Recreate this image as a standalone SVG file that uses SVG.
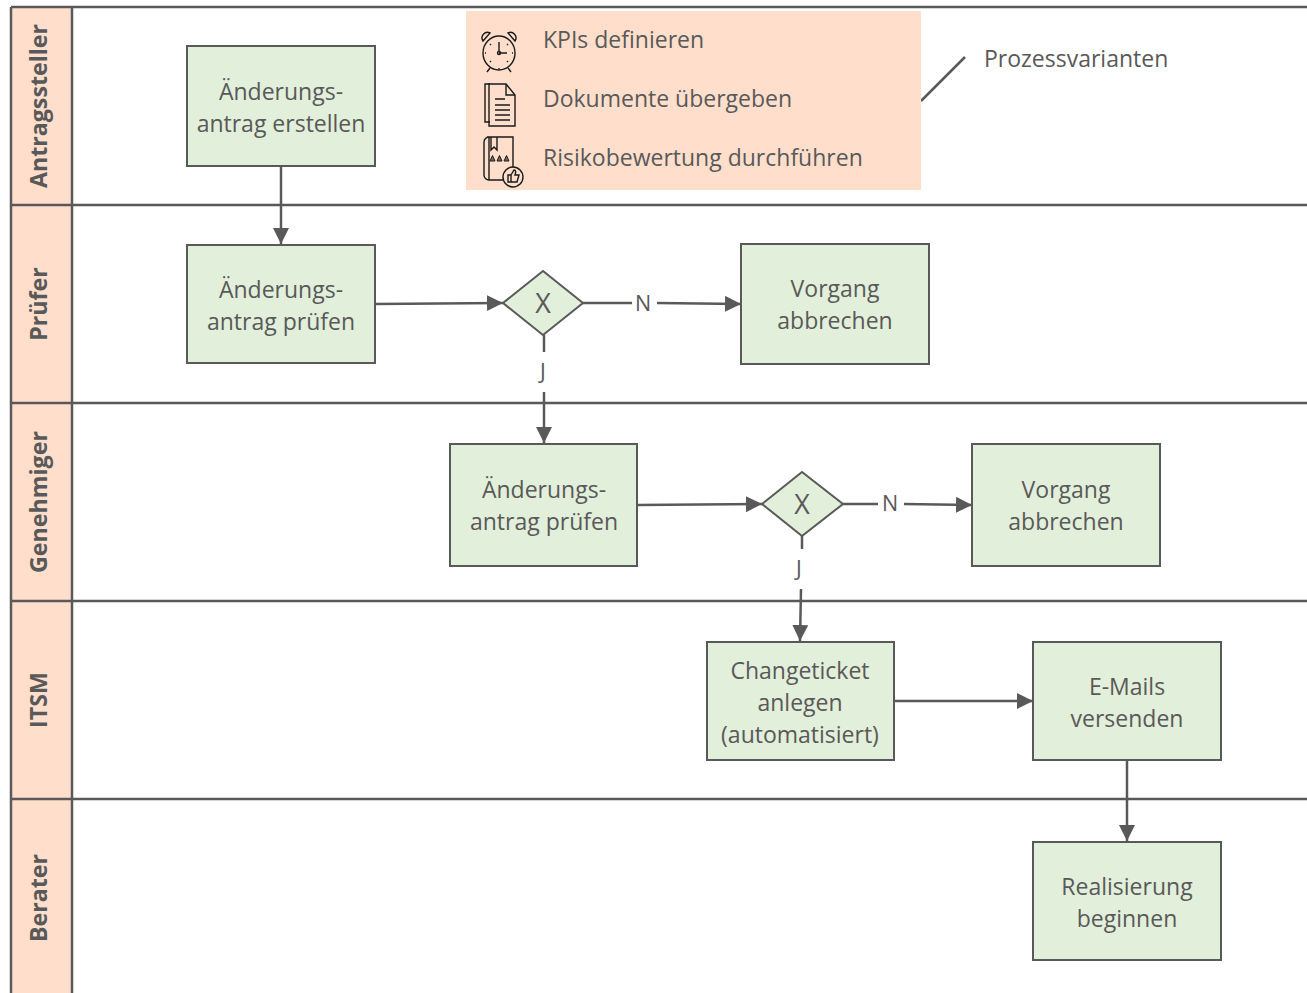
<svg xmlns="http://www.w3.org/2000/svg" width="1307" height="993" viewBox="0 0 1307 993">
<style>
text{font-family:"Open Sans","Noto Sans",sans-serif;fill:#595959;font-size:23px;text-anchor:middle}
.b{fill:#e2efda;stroke:#595959;stroke-width:2}
.h{fill:#ffdfcc}
.ln{stroke:#595959;stroke-width:2.5;fill:none}
.c{stroke:#595959;stroke-width:2.5;fill:none;marker-end:url(#a)}
.p{stroke:#595959;stroke-width:2.5;fill:none}
.lab{font-weight:700;font-size:23.2px}
.l{text-anchor:start;font-size:23px}
.e{font-size:21.5px}
.x{font-size:27px}
.i{fill:none;stroke:#1a1a1a;stroke-width:1.4}
</style>
<defs>
<marker id="a" markerUnits="userSpaceOnUse" markerWidth="18" markerHeight="18" refX="16" refY="8" orient="auto"><path d="M0 0L16 8L0 16Z" fill="#595959"/></marker>
</defs>
<rect width="1307" height="993" fill="#fff"/>
<g id="lanes">
<rect class="h" x="11" y="7" width="61" height="986"/>
<path class="ln" d="M11 7H1307M11 205H1307M11 403H1307M11 601H1307M11 799H1307M11 7V993M72 7V993"/>
<text class="lab" transform="translate(47,106) rotate(-90)">Antragssteller</text>
<text class="lab" transform="translate(47,304) rotate(-90)">Prüfer</text>
<text class="lab" transform="translate(47,502) rotate(-90)">Genehmiger</text>
<text class="lab" transform="translate(47,700) rotate(-90)">ITSM</text>
<text class="lab" transform="translate(47,898) rotate(-90)">Berater</text>
</g>
<g id="connectors">
<path class="c" d="M281 166V244"/>
<path class="c" d="M375 304L503 303"/>
<path class="p" d="M583 303H632"/>
<path class="c" d="M657 303L741 304"/>
<path class="p" d="M544 335V352"/>
<path class="c" d="M544 392V443"/>
<path class="c" d="M637 505L762 504"/>
<path class="p" d="M843 504H878"/>
<path class="c" d="M904 504L972 505"/>
<path class="p" d="M802 536V549"/>
<path class="c" d="M801 589L800 641"/>
<path class="c" d="M894 701H1033"/>
<path class="c" d="M1127 760V841"/>
<path class="p" d="M921 101L965 57"/>
<text class="e" x="643" y="311">N</text>
<text class="e" x="543" y="379">J</text>
<text class="e" x="890" y="511">N</text>
<text class="e" x="799" y="576">J</text>
</g>
<g id="n1"><rect class="b" x="187" y="46" width="188" height="120"/><text x="281" y="100">Änderungs-</text><text x="281" y="132">antrag erstellen</text></g>
<g id="n2"><rect class="b" x="187" y="245" width="188" height="118"/><text x="281" y="298">Änderungs-</text><text x="281" y="330">antrag prüfen</text></g>
<g id="d1"><path class="b" d="M543 271L583 303L543 335L503 303Z"/><text class="x" x="543" y="313">X</text></g>
<g id="n3"><rect class="b" x="741" y="244" width="188" height="120"/><text x="835" y="297">Vorgang</text><text x="835" y="329">abbrechen</text></g>
<g id="n4"><rect class="b" x="450" y="444" width="187" height="122"/><text x="544" y="498">Änderungs-</text><text x="544" y="530">antrag prüfen</text></g>
<g id="d2"><path class="b" d="M802 472L843 504L802 536L762 504Z"/><text class="x" x="802" y="514">X</text></g>
<g id="n5"><rect class="b" x="972" y="444" width="188" height="122"/><text x="1066" y="498">Vorgang</text><text x="1066" y="530">abbrechen</text></g>
<g id="n6"><rect class="b" x="707" y="642" width="187" height="118"/><text x="800" y="679">Changeticket</text><text x="800" y="711">anlegen</text><text x="800" y="743">(automatisiert)</text></g>
<g id="n7"><rect class="b" x="1033" y="642" width="188" height="118"/><text x="1127" y="695">E-Mails</text><text x="1127" y="727">versenden</text></g>
<g id="n8"><rect class="b" x="1033" y="842" width="188" height="118"/><text x="1127" y="895">Realisierung</text><text x="1127" y="927">beginnen</text></g>
<g id="variants">
<rect class="h" x="466" y="11" width="455" height="179"/>
<text class="l" x="543" y="48">KPIs definieren</text>
<text class="l" x="543" y="107">Dokumente übergeben</text>
<text class="l" x="543" y="166">Risikobewertung durchführen</text>
<g class="i">
<ellipse cx="499" cy="53" rx="16" ry="17"/>
<path d="M499 42V52M499 53H507M490 68L487 72M508 68L511 72"/>
<circle cx="499" cy="53" r="1.500"/>
<path d="M483 41A5.500 5.500 0 0 1 490 33ZM515 41A5.500 5.500 0 0 0 508 33Z"/>
<path d="M490 44l1 1M508 44l-1 1M490 62l1-1M508 62l-1-1M499 69v-1M485 53h1M513 53h-1"/>
</g>
<g class="i">
<path d="M490 84H485V122H490"/>
<path d="M489 84H506L515 95V126H489Z"/>
<path d="M506 84V95H515M495 99H505M495 105H510M495 110H510M495 115H510M495 120H510"/>
</g>
<g class="i">
<path d="M487 137H513V168M503 180H489A5 5 0 0 1 484 175V142A5 5 0 0 1 489 137M489 137V180"/>
<path d="M491 137V150L494 147L497 150V137"/>
<path d="M490 161l2.500-5.500l2.500 5.500ZM497 161l2.500-5.500l2.500 5.500ZM504 161l2.500-5.500l2.500 5.500Z" stroke-width="1" fill="#1a1a1a" fill-opacity="0.6"/>
<circle cx="513" cy="177" r="10" fill="#ffdfcc"/>
<path d="M508 175H511V182H508ZM511 175L514 170C516 170 516 172 515 175H519L517 182H511"/>
</g>
<text class="l" x="984" y="67">Prozessvarianten</text>
</g>
</svg>
